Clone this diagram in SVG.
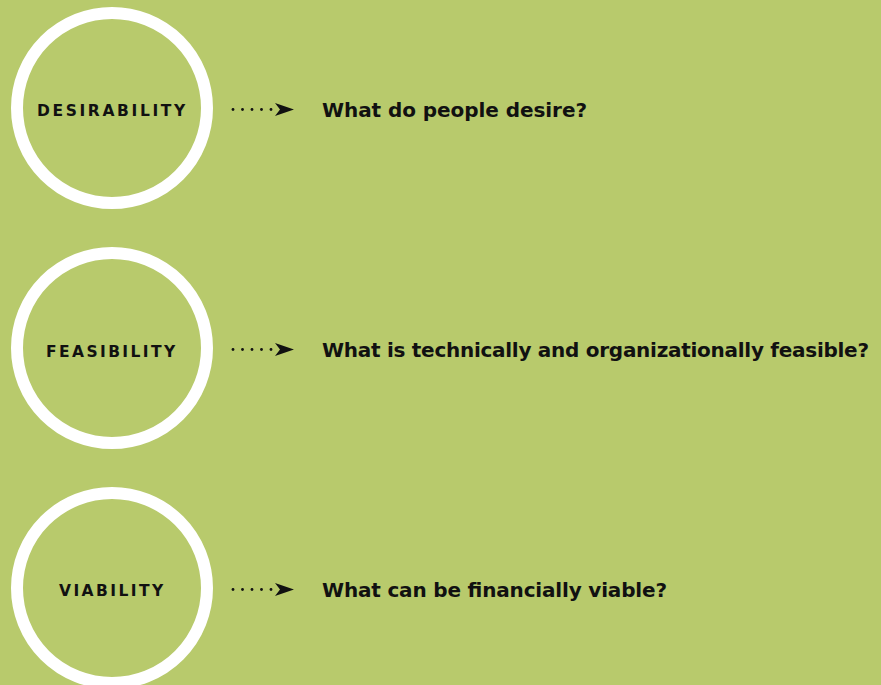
<svg xmlns="http://www.w3.org/2000/svg" width="881" height="685" viewBox="0 0 881 685">
<defs>
<style>
.ring{fill:none;stroke:#ffffff;stroke-width:12}
.lbl{font-family:"DejaVu Sans","Liberation Sans",sans-serif;font-weight:bold;font-size:15.5px;letter-spacing:2.8px;fill:#111111}
.q{font-family:"DejaVu Sans","Liberation Sans",sans-serif;font-weight:bold;font-size:20px;fill:#111111}
.dot{fill:#111111}
.head{fill:#111111}
</style>
<g id="arrow">
<circle class="dot" cx="233" cy="0" r="1.4"/>
<circle class="dot" cx="242.5" cy="0" r="1.4"/>
<circle class="dot" cx="252" cy="0" r="1.4"/>
<circle class="dot" cx="261.5" cy="0" r="1.4"/>
<circle class="dot" cx="271" cy="0" r="1.4"/>
<path class="head" d="M275,-6.5 L294,0 L275,6.5 L280,0 Z"/>
</g>
</defs>
<rect x="0" y="0" width="881" height="685" fill="#b8ca6c"/>
<g id="desirability">
<circle class="ring" cx="112" cy="108" r="95"/>
<text class="lbl" x="37" y="116" textLength="151" lengthAdjust="spacing">DESIRABILITY</text>
</g>
<g id="feasibility">
<circle class="ring" cx="112" cy="348" r="95"/>
<text class="lbl" x="46" y="357" textLength="132" lengthAdjust="spacing">FEASIBILITY</text>
</g>
<g id="viability">
<circle class="ring" cx="112" cy="588" r="95"/>
<text class="lbl" x="59" y="596" textLength="107" lengthAdjust="spacing">VIABILITY</text>
</g>
<g id="connectors">
<use href="#arrow" y="109.5"/>
<use href="#arrow" y="349.5"/>
<use href="#arrow" y="589.5"/>
</g>
<g id="q1"><text class="q" x="322" y="117" textLength="265" lengthAdjust="spacing">What do people desire?</text></g>
<g id="q2"><text class="q" x="322" y="357" textLength="547" lengthAdjust="spacing">What is technically and organizationally feasible?</text></g>
<g id="q3"><text class="q" x="322" y="597" textLength="345" lengthAdjust="spacing">What can be financially viable?</text></g>
</svg>
